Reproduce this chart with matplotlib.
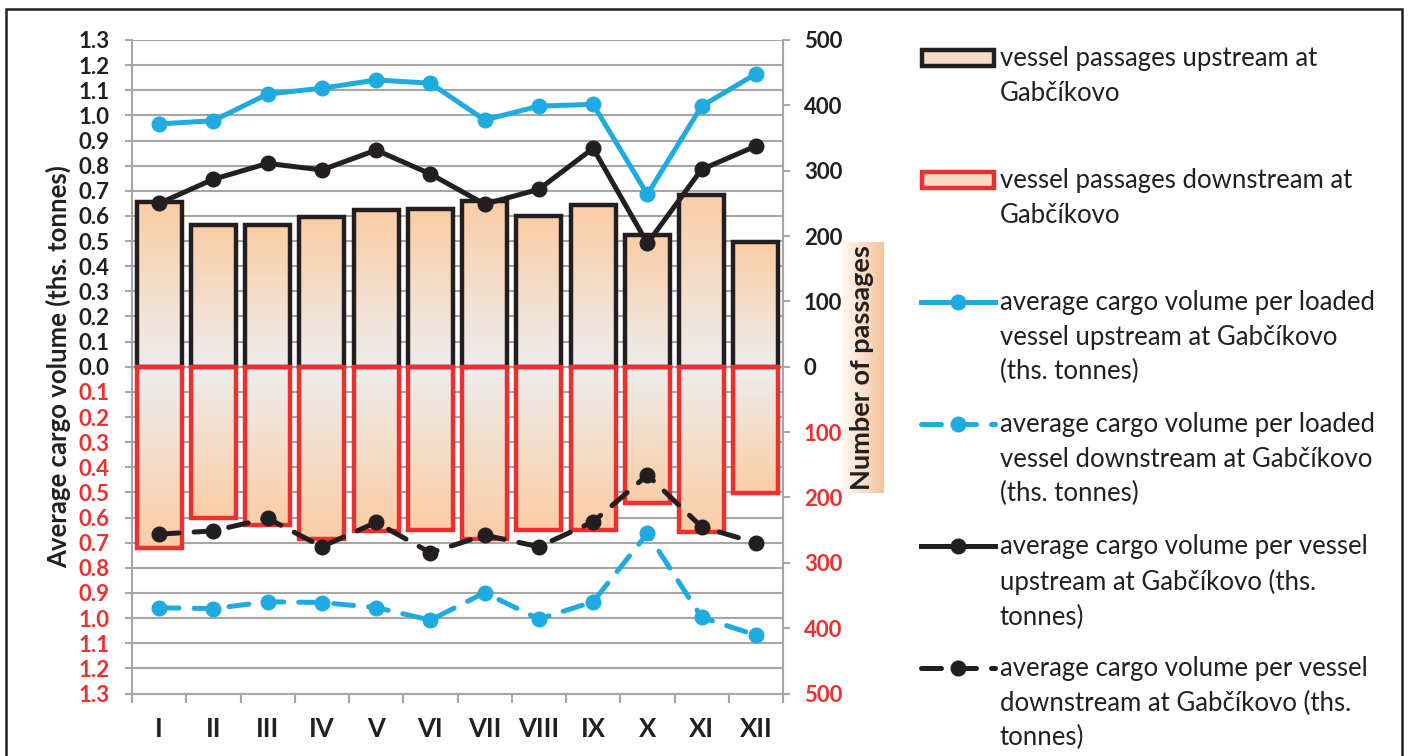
import numpy as np
import matplotlib
matplotlib.use('Agg')
import matplotlib.pyplot as plt
from matplotlib.colors import LinearSegmentedColormap
from matplotlib.patches import Rectangle

plt.rcParams['font.family'] = ['Lato', 'DejaVu Sans']

# data
months = ['I', 'II', 'III', 'IV', 'V', 'VI', 'VII', 'VIII', 'IX', 'X', 'XI', 'XII']
passages_up = [252, 217, 217, 229, 240, 242, 253, 230, 247, 201, 263, 191]
passages_down = [277, 232, 242, 264, 251, 250, 264, 250, 250, 209, 253, 193]
cargo_loaded_up = [0.966, 0.979, 1.085, 1.108, 1.141, 1.128, 0.982, 1.037, 1.044, 0.686, 1.037, 1.165]
cargo_loaded_down = [0.959, 0.962, 0.935, 0.938, 0.958, 1.008, 0.899, 1.004, 0.935, 0.663, 0.997, 1.068]
cargo_up = [0.650, 0.746, 0.809, 0.783, 0.862, 0.767, 0.647, 0.706, 0.869, 0.491, 0.785, 0.878]
cargo_down = [0.666, 0.653, 0.603, 0.716, 0.619, 0.740, 0.670, 0.716, 0.617, 0.431, 0.637, 0.700]

labels = ['vessel passages upstream at\nGabčíkovo',
          'vessel passages downstream at\nGabčíkovo',
          'average cargo volume per loaded\nvessel upstream at Gabčíkovo\n(ths. tonnes)',
          'average cargo volume per loaded\nvessel downstream at Gabčíkovo\n(ths. tonnes)',
          'average cargo volume per vessel\nupstream at Gabčíkovo (ths.\ntonnes)',
          'average cargo volume per vessel\ndownstream at Gabčíkovo (ths.\ntonnes)']

BLUE = '#1eabe2'
BLACK = '#231f20'
RED = '#ee2f2f'
GRID = '#a6a6a6'
bar_cmap = LinearSegmentedColormap.from_list('bar', ['#ededed', '#fbcda5'])

W, H = 1408, 756
fig = plt.figure(figsize=(W / 100, H / 100), dpi=100)
ax = fig.add_axes([132 / W, 62.5 / H, 651 / W, 653.5 / H])
ax2 = ax.twinx()
ax3 = ax.twinx()

x = np.arange(len(months))

# bars with vertical gradient fill (right axis)
def gradient_bars(axis, heights, edge):
    bars = axis.bar(x, heights, width=0.83, facecolor='none', edgecolor=edge,
                    linewidth=3.2, zorder=3)
    grad = np.linspace(0, 1, 200).reshape(-1, 1)
    for b in bars:
        x0, y0, w, h = b.get_x(), b.get_y(), b.get_width(), b.get_height()
        im = axis.imshow(grad, cmap=bar_cmap, aspect='auto', origin='lower',
                         extent=[x0, x0 + w, y0, y0 + h], zorder=2,
                         interpolation='bilinear')
        im.set_clip_path(b)
    return bars

gradient_bars(ax2, passages_up, BLACK)
gradient_bars(ax2, -np.array(passages_down), RED)

# lines (left axis)
lw, ms = 3.6, 10.5
ax3.plot(x, cargo_loaded_up, color=BLUE, lw=lw, marker='o', ms=ms, clip_on=False)
ax3.plot(x, -np.array(cargo_loaded_down), color=BLUE, lw=lw, ls=(0, (4, 3)),
         marker='o', ms=ms, dash_capstyle='round', clip_on=False)
ax3.plot(x, cargo_up, color=BLACK, lw=lw, marker='o', ms=ms, clip_on=False)
ax3.plot(x, -np.array(cargo_down), color=BLACK, lw=lw, ls=(0, (4, 3)),
         marker='o', ms=ms, dash_capstyle='round', clip_on=False)

# axes limits
for a in (ax, ax2, ax3):
    a.set_xlim(-0.5, len(months) - 0.5)
ax.set_ylim(-1.3, 1.3)
ax3.set_ylim(-1.3, 1.3)
ax2.set_ylim(-500, 500)
ax3.axis('off')

# left axis ticks
lticks = np.round(np.arange(-13, 14) / 10, 1)
ax.set_yticks(lticks, labels=[f'{abs(v):.1f}' for v in lticks])
for t, v in zip(ax.get_yticklabels(), lticks):
    t.set_color(RED if v < 0 else BLACK)
    t.set_fontweight('bold')
ax.tick_params(axis='y', length=5, width=1.5, color=GRID, pad=11,
               labelsize=16)
ax.grid(axis='y', color=GRID, lw=1.5)
ax.set_axisbelow(True)

# right axis ticks
rticks = np.arange(-500, 501, 100)
ax2.set_yticks(rticks, labels=[f'{abs(v)}' for v in rticks])
for t, v in zip(ax2.get_yticklabels(), rticks):
    t.set_color(RED if v < 0 else BLACK)
    t.set_fontweight('bold')
ax2.tick_params(axis='y', length=5, width=1.5, color=GRID, pad=10,
                labelsize=16)

# x axis
ax.set_xticks(x, labels=months)
ax.set_xticks(np.arange(-0.5, len(months)), minor=True)
ax.tick_params(axis='x', which='major', length=0, pad=17, labelsize=18.5)
ax.tick_params(axis='x', which='minor', length=6.5, width=1.5, color=GRID)
for t in ax.get_xticklabels():
    t.set_fontweight('bold')
    t.set_color(BLACK)

for a in (ax, ax2):
    for s in a.spines.values():
        s.set_visible(False)
for a, side in ((ax, 'left'), (ax, 'bottom'), (ax2, 'right')):
    a.spines[side].set_visible(True)
    a.spines[side].set_color(GRID)
    a.spines[side].set_linewidth(1.5)

ax.set_ylabel('Average cargo volume (ths. tonnes)', fontsize=18.5,
              fontweight='bold', color=BLACK)
ax.yaxis.set_label_coords(-0.094, 0.5)

# right axis title on a peach gradient box
bax = fig.add_axes([841 / W, (H - 493) / H, 43 / W, 251 / H])
box_cmap = LinearSegmentedColormap.from_list('box', ['#fefaf5', '#f7c49b'])
bax.imshow(np.linspace(0, 1, 100).reshape(1, -1), cmap=box_cmap, aspect='auto')
bax.axis('off')
bax.text(0.5, 0.5, 'Number of passages', rotation=90, ha='center', va='center',
         fontsize=19.5, fontweight='bold', color=BLACK, transform=bax.transAxes)

# legend drawn by hand so the handle sits on the first text line
lax = fig.add_axes([0, 0, 1, 1], zorder=5)
lax.set_xlim(0, W)
lax.set_ylim(H, 0)
lax.axis('off')
styles = [('bar', BLACK, None), ('bar', RED, None),
          ('line', BLUE, '-'), ('line', BLUE, (0, (4, 3))),
          ('line', BLACK, '-'), ('line', BLACK, (0, (4, 3)))]
for i, ((kind, col, ls), lab) in enumerate(zip(styles, labels)):
    yc = 58 + 122 * i
    if kind == 'bar':
        lax.add_patch(Rectangle((922, yc - 8), 72, 16, facecolor='#f6dcc6',
                                edgecolor=col, lw=3.2))
    else:
        lax.plot([921, 995], [yc, yc], color=col, lw=lw, ls=ls,
                 dash_capstyle='round')
        lax.plot([958], [yc], color=col, marker='o', ms=ms)
    lax.text(1000, yc - 12, lab, va='top', ha='left', fontsize=18.5,
             color=BLACK, linespacing=1.48)

# outer frame
fig.add_artist(Rectangle((6 / W, -0.05), 1396 / W, 1.05 - 9 / H,
                         transform=fig.transFigure, fill=False,
                         edgecolor=BLACK, lw=1.8))

fig.savefig('out.png', dpi=100)
